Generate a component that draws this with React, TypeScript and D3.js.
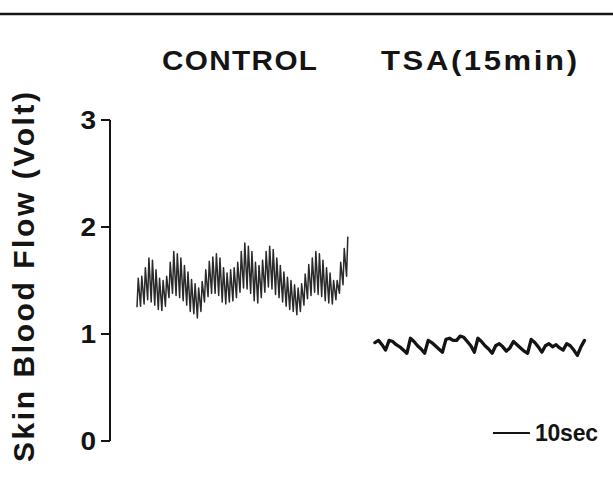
import React from "react";
import * as d3 from "d3";

// y-axis ticks (Volt)
const yTicks = [0, 1, 2, 3];

// per-beat sampling interval (s) and segment start times (s on the chart time axis)
const beatInterval = 0.96;
const controlStart = 0;
const tsaStart = 64.3;
const scaleBarStart = 96.2;
const scaleBarSeconds = 10;

// CONTROL: per-beat peak and trough (Volt)
const controlHigh = [
  1.52, 1.54, 1.62, 1.71, 1.69, 1.6, 1.52, 1.5, 1.54, 1.67,
  1.77, 1.75, 1.71, 1.64, 1.58, 1.51, 1.47, 1.43, 1.49, 1.6,
  1.68, 1.72, 1.75, 1.71, 1.62, 1.57, 1.6, 1.62, 1.67, 1.77,
  1.85, 1.82, 1.77, 1.67, 1.64, 1.69, 1.77, 1.82, 1.79, 1.71,
  1.64, 1.58, 1.53, 1.5, 1.46, 1.43, 1.47, 1.56, 1.65, 1.71,
  1.77, 1.75, 1.69, 1.62, 1.57, 1.5, 1.5, 1.67, 1.8, 1.91,
];
const controlLow = [
  1.25, 1.26, 1.28, 1.32, 1.3, 1.27, 1.23, 1.22, 1.26, 1.34,
  1.38, 1.36, 1.34, 1.31, 1.27, 1.21, 1.19, 1.15, 1.21, 1.3,
  1.35, 1.38, 1.38, 1.36, 1.3, 1.28, 1.3, 1.31, 1.34, 1.39,
  1.43, 1.42, 1.38, 1.31, 1.29, 1.34, 1.39, 1.44, 1.42, 1.37,
  1.34, 1.3, 1.26, 1.23, 1.21, 1.18, 1.21, 1.27, 1.33, 1.36,
  1.39, 1.37, 1.35, 1.31, 1.29, 1.28, 1.32, 1.38, 1.46, 1.54,
];

// TSA (15 min): per-beat level (Volt)
const tsaLevel = [
  0.92, 0.94, 0.9, 0.85, 0.94, 0.93, 0.9, 0.88, 0.85, 0.82,
  0.96, 0.93, 0.89, 0.86, 0.82, 0.94, 0.92, 0.89, 0.86, 0.83,
  0.95, 0.96, 0.94, 0.94, 0.98, 0.97, 0.93, 0.89, 0.83, 0.96,
  0.93, 0.89, 0.86, 0.82, 0.89, 0.91, 0.88, 0.84, 0.87, 0.93,
  0.9, 0.87, 0.84, 0.82, 0.95, 0.92, 0.88, 0.83, 0.89, 0.91,
  0.88, 0.9, 0.87, 0.85, 0.91, 0.89, 0.85, 0.8, 0.88, 0.94,
];

const W = 613;
const H = 485;
const FONT = "'Liberation Sans', Arial, Helvetica, sans-serif";
const INK = "#141414";

function Wide({ x, y, size, width, sx, children }: any) {
  return (
    <g transform={`translate(${x},${y}) scale(${sx},1)`}>
      <text
        x={0}
        y={0}
        fontSize={size}
        fontWeight="bold"
        fill={INK}
        textLength={width / sx}
        lengthAdjust="spacing"
      >
        {children}
      </text>
    </g>
  );
}

export default function App() {
  const x = d3.scaleLinear().domain([0, 130]).range([137, 618]);
  const y = d3.scaleLinear().domain([0, 3]).range([441, 120]);
  const axisX = 110;

  const controlPts: [number, number][] = [];
  controlHigh.forEach((hi, i) => {
    const t = controlStart + i * beatInterval;
    controlPts.push([x(t), y(controlLow[i])]);
    controlPts.push([x(t + beatInterval * 0.35), y(hi)]);
  });
  const tsaPts: [number, number][] = tsaLevel.map((v, i) => [
    x(tsaStart + i * beatInterval),
    y(v),
  ]);
  const line = d3.line<[number, number]>();

  return (
    <svg
      width={W}
      height={H}
      style={{ position: "absolute", left: 0, top: 0, background: "#fff" }}
      fontFamily={FONT}
    >
      <rect width={W} height={H} fill="#fff" />
      <line x1={0} x2={W} y1={14} y2={14} stroke={INK} strokeWidth={2.5} />

      <Wide x={162} y={70} size={27} width={155} sx={1.1}>
        CONTROL
      </Wide>
      <Wide x={381} y={70} size={27} width={196} sx={1.15}>
        TSA(15min)
      </Wide>

      <line x1={axisX} x2={axisX} y1={y(3)} y2={y(0)} stroke={INK} strokeWidth={2} />
      {yTicks.map((t) => (
        <g key={t}>
          <line x1={axisX - 9} x2={axisX} y1={y(t)} y2={y(t)} stroke={INK} strokeWidth={2} />
          <g transform={`translate(96,${y(t) + 9}) scale(1.12,1)`}>
            <text x={0} y={0} fontSize={25} fontWeight="bold" textAnchor="end" fill={INK}>
              {t}
            </text>
          </g>
        </g>
      ))}
      <text
        transform="translate(34,277) rotate(-90)"
        fontSize={30}
        fontWeight="bold"
        textAnchor="middle"
        fill={INK}
        textLength={370}
        lengthAdjust="spacing"
      >
        Skin Blood Flow (Volt)
      </text>

      <path d={line(controlPts) || ""} fill="none" stroke="#2a2a2a" strokeWidth={1.5} strokeLinejoin="round" />
      <path d={line(tsaPts) || ""} fill="none" stroke={INK} strokeWidth={3.3} strokeLinejoin="round" strokeLinecap="round" />

      <line
        x1={x(scaleBarStart)}
        x2={x(scaleBarStart + scaleBarSeconds)}
        y1={433}
        y2={433}
        stroke={INK}
        strokeWidth={2}
      />
      <text x={535} y={441} fontSize={23} fontWeight="bold" fill={INK} textLength={63} lengthAdjust="spacing">
        10sec
      </text>
    </svg>
  );
}
